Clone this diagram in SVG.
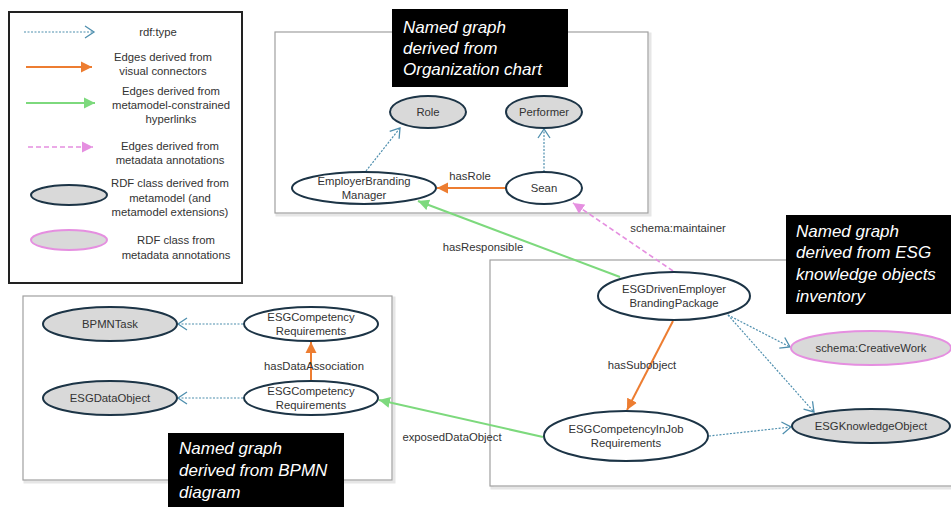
<svg xmlns="http://www.w3.org/2000/svg" width="951" height="507" viewBox="0 0 951 507">
<style>
text{font-family:"Liberation Sans",Arial,sans-serif;font-size:11.3px;fill:#333;}
.c{text-anchor:middle;dominant-baseline:central;}
.lbl{font-size:17px;font-style:italic;fill:#fff;}
.box{fill:#fff;stroke:#a0a0a0;stroke-width:1.2;}
.shadow{fill:none;stroke:#e6e6e6;stroke-width:3;}
.cls{fill:#d9d9d9;stroke:#1c3446;stroke-width:2;}
.ann{fill:#d9d9d9;stroke:#e58fe0;stroke-width:2;}
.ind{fill:#fff;stroke:#1c3446;stroke-width:2;}
.type{fill:none;stroke:#4f8fae;stroke-width:1.2;stroke-dasharray:2 1.5;marker-end:url(#open);}
.vis{fill:none;stroke:#ed7d31;stroke-width:2;marker-end:url(#orange);}
.hyp{fill:none;stroke:#7dd97d;stroke-width:2;marker-end:url(#green);}
.meta{fill:none;stroke:#e58fe0;stroke-width:1.6;stroke-dasharray:5 3;marker-end:url(#pink);}
</style>
<defs>
<marker id="open" markerUnits="userSpaceOnUse" markerWidth="12" markerHeight="14" refX="10" refY="7" orient="auto"><path d="M1,1 L10,7 L1,13" fill="none" stroke="#4f8fae" stroke-width="1.3"/></marker>
<marker id="orange" markerUnits="userSpaceOnUse" markerWidth="12" markerHeight="12" refX="11" refY="6" orient="auto"><path d="M0,0.5 L11,6 L0,11.5 z" fill="#ed7d31"/></marker>
<marker id="green" markerUnits="userSpaceOnUse" markerWidth="12" markerHeight="12" refX="11" refY="6" orient="auto"><path d="M0,0.5 L11,6 L0,11.5 z" fill="#7dd97d"/></marker>
<marker id="pink" markerUnits="userSpaceOnUse" markerWidth="12" markerHeight="12" refX="11" refY="6" orient="auto"><path d="M0,0.5 L11,6 L0,11.5 z" fill="#e58fe0"/></marker>
</defs>

<g id="legend">
<rect x="9" y="12" width="233" height="271" fill="#fff" stroke="#222" stroke-width="2"/>
<line x1="24" y1="32" x2="94" y2="32" class="type"/>
<text x="158" y="32" class="c">rdf:type</text>
<line x1="26" y1="67" x2="92" y2="67" class="vis"/>
<text x="163" y="57" class="c">Edges derived from</text>
<text x="163" y="71" class="c">visual connectors</text>
<line x1="26" y1="103" x2="95" y2="103" class="hyp"/>
<text x="171" y="91" class="c">Edges derived from</text>
<text x="171" y="105" class="c">metamodel-constrained</text>
<text x="171" y="119" class="c">hyperlinks</text>
<line x1="28" y1="147" x2="93" y2="147" class="meta"/>
<text x="170" y="146" class="c">Edges derived from</text>
<text x="170" y="160" class="c">metadata annotations</text>
<ellipse cx="69" cy="195" rx="38" ry="10" class="cls"/>
<text x="170" y="183" class="c">RDF class derived from</text>
<text x="170" y="198" class="c">metamodel (and</text>
<text x="170" y="212" class="c">metamodel extensions)</text>
<ellipse cx="69" cy="240" rx="38" ry="10" class="ann"/>
<text x="176" y="240" class="c">RDF class from</text>
<text x="176" y="255" class="c">metadata annotations</text>
</g>

<g id="graph-org">
<rect x="277" y="34" width="373" height="181" class="shadow"/>
<rect x="275" y="32" width="373" height="181" class="box"/>
</g>
<g id="graph-bpmn">
<rect x="25" y="298" width="369" height="184" class="shadow"/>
<rect x="23" y="296" width="369" height="184" class="box"/>
</g>
<g id="graph-esg">
<rect x="492" y="262" width="462" height="226" class="shadow"/>
<rect x="490" y="260" width="462" height="226" class="box"/>
</g>

<g id="connectors">
<line x1="366" y1="171" x2="400" y2="128" class="type"/>
<line x1="544" y1="172" x2="544" y2="129" class="type"/>
<line x1="506" y1="188" x2="437" y2="188" class="vis"/>
<text x="470" y="176" class="c">hasRole</text>
<line x1="620" y1="277" x2="418" y2="201" class="hyp"/>
<text x="483" y="247" class="c">hasResponsible</text>
<line x1="673" y1="271" x2="573" y2="203" class="meta"/>
<text x="678" y="228" class="c">schema:maintainer</text>
<line x1="673" y1="321" x2="627" y2="410" class="vis"/>
<text x="642" y="365" class="c">hasSubobject</text>
<line x1="728" y1="315" x2="790" y2="347" class="type"/>
<line x1="728" y1="315" x2="814" y2="412" class="type"/>
<line x1="709" y1="436" x2="791" y2="427" class="type"/>
<line x1="543" y1="437" x2="379" y2="400" class="hyp"/>
<text x="452" y="437" class="c">exposedDataObject</text>
<line x1="311" y1="381" x2="311" y2="342" class="vis"/>
<text x="314" y="366" class="c">hasDataAssociation</text>
<line x1="243" y1="324" x2="178" y2="324" class="type"/>
<line x1="243" y1="398" x2="178" y2="398" class="type"/>
</g>

<g id="label-org">
<rect x="392" y="9" width="176" height="78" fill="#000"/>
<text x="403" y="27" class="lbl" dominant-baseline="central">Named graph</text>
<text x="403" y="48" class="lbl" dominant-baseline="central">derived from</text>
<text x="403" y="69" class="lbl" dominant-baseline="central">Organization chart</text>
</g>
<g id="label-esg">
<rect x="786" y="215" width="170" height="99" fill="#000"/>
<text x="796" y="231" class="lbl" dominant-baseline="central">Named graph</text>
<text x="796" y="252" class="lbl" dominant-baseline="central">derived from ESG</text>
<text x="796" y="274" class="lbl" dominant-baseline="central">knowledge objects</text>
<text x="796" y="296" class="lbl" dominant-baseline="central">inventory</text>
</g>
<g id="label-bpmn">
<rect x="168" y="433" width="176" height="80" fill="#000"/>
<text x="179" y="448" class="lbl" dominant-baseline="central">Named graph</text>
<text x="179" y="470" class="lbl" dominant-baseline="central">derived from BPMN</text>
<text x="179" y="492" class="lbl" dominant-baseline="central">diagram</text>
</g>

<g id="role"><ellipse cx="428" cy="112" rx="38" ry="16" class="cls"/><text x="428" y="112" class="c">Role</text></g>
<g id="performer"><ellipse cx="544" cy="112" rx="38" ry="16" class="cls"/><text x="544" y="112" class="c">Performer</text></g>
<g id="employer-branding-manager"><ellipse cx="364" cy="188" rx="72" ry="16" class="ind"/><text x="364" y="181" class="c">EmployerBranding</text><text x="364" y="195" class="c">Manager</text></g>
<g id="sean"><ellipse cx="544" cy="188" rx="38" ry="16" class="ind"/><text x="544" y="188" class="c">Sean</text></g>

<g id="esg-driven"><ellipse cx="674" cy="296" rx="76" ry="24" class="ind"/><text x="674" y="289" class="c">ESGDrivenEmployer</text><text x="674" y="303" class="c">BrandingPackage</text></g>
<g id="creative-work"><ellipse cx="871" cy="348" rx="80" ry="17" class="ann"/><text x="871" y="348" class="c">schema:CreativeWork</text></g>
<g id="esg-knowledge-object"><ellipse cx="871" cy="426" rx="79" ry="17" class="cls"/><text x="871" y="426" class="c">ESGKnowledgeObject</text></g>
<g id="esg-comp-in-job"><ellipse cx="626" cy="436" rx="82" ry="25" class="ind"/><text x="626" y="429" class="c">ESGCompetencyInJob</text><text x="626" y="443" class="c">Requirements</text></g>

<g id="bpmn-task"><ellipse cx="110" cy="324" rx="67" ry="17" class="cls"/><text x="110" y="324" class="c">BPMNTask</text></g>
<g id="esg-comp-top"><ellipse cx="311" cy="324" rx="67" ry="17" class="ind"/><text x="311" y="317" class="c">ESGCompetency</text><text x="311" y="331" class="c">Requirements</text></g>
<g id="esg-data-object"><ellipse cx="110" cy="398" rx="67" ry="17" class="cls"/><text x="110" y="398" class="c">ESGDataObject</text></g>
<g id="esg-comp-bottom"><ellipse cx="311" cy="398" rx="67" ry="17" class="ind"/><text x="311" y="391" class="c">ESGCompetency</text><text x="311" y="405" class="c">Requirements</text></g>
</svg>
